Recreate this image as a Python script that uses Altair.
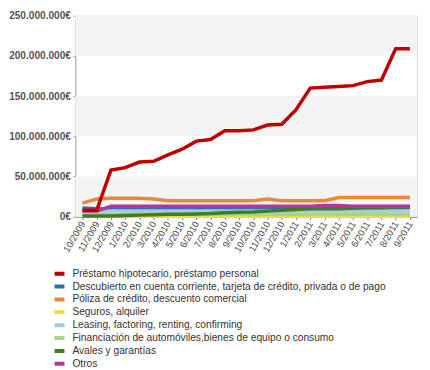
import altair as alt
import pandas as pd

months = ["10/2009","11/2009","12/2009","1/2010","2/2010","3/2010","4/2010","5/2010","6/2010",
          "7/2010","8/2010","9/2010","10/2010","11/2010","12/2010","1/2011","2/2011","3/2011",
          "4/2011","5/2011","6/2011","7/2011","8/2011","9/2011"]

series_names = [
    "Préstamo hipotecario, préstamo personal",
    "Descubierto en cuenta corriente, tarjeta de crédito, privada o de pago",
    "Póliza de crédito, descuento comercial",
    "Seguros, alquiler",
    "Leasing, factoring, renting, confirming",
    "Financiación de automóviles,bienes de equipo o consumo",
    "Avales y garantías",
    "Otros",
]
colors = ["#c00000", "#2f6db5", "#e8883a", "#e6e03a", "#a9c8e8", "#a8d48c", "#3d7d26", "#b0379e"]

# values in millions of euros
prestamo = [8, 8, 58, 61, 68, 69, 77, 84, 94, 96, 107, 107, 108, 114, 115, 133, 160, 161, 162, 163, 168, 170, 209, 209]
descubierto = [11, 10, 10, 10, 10, 10, 10, 10, 10, 10, 10, 10, 10, 10, 10, 10, 10, 10, 10, 10, 10, 10, 10, 11]
poliza = [17, 22, 23, 23, 23, 22, 20, 20, 20, 20, 20, 20, 20, 22, 20, 20, 20, 20, 24, 24, 24, 24, 24, 24]
seguros = [0.5, 0.5, 0.5, 0.5, 0.5, 0.5, 0.5, 0.5, 0.5, 0.5, 0.5, 0.5, 0.5, 0.5, 0.5, 0.5, 0.5, 0.5, 0.5, 0.5, 0.5, 0.5, 0.5, 0.5]
leasing = [7, 7, 7, 7, 7, 7, 7, 7, 7, 7, 7, 7, 7, 7, 7, 7, 7, 7, 7, 7, 7, 7, 7, 7]
financiacion = [3, 3, 3, 3, 3, 3, 3, 3, 3, 3, 3, 3, 3, 3, 3, 3, 3, 3, 3, 3, 3, 3, 3, 3]
avales = [1, 1, 1, 1.5, 2, 2.5, 3, 3, 3.5, 4, 5, 5.5, 6, 7, 8, 9, 10, 10, 10, 10.5, 11, 11, 12, 12]
otros = [7, 7, 13, 13, 13, 13, 13, 13, 13, 13, 13, 13, 13, 13, 13, 13, 13, 14, 14, 13, 13, 13, 13, 13]

all_values = [prestamo, descubierto, poliza, seguros, leasing, financiacion, avales, otros]

rows = []
for name, vals in zip(series_names, all_values):
    for m, v in zip(months, vals):
        rows.append({"mes": m, "serie": name, "valor": v * 1_000_000})
df = pd.DataFrame(rows)

band_lo = [0, 100_000_000, 200_000_000]
band_hi = [50_000_000, 150_000_000, 250_000_000]
bands = pd.DataFrame({"lo": band_lo, "hi": band_hi})

yscale = alt.Scale(domain=[0, 250_000_000], nice=False)
xscale = alt.Scale(type="point", padding=0.5)

band_layer = alt.Chart(bands).mark_rect(color="#f4f4f4").encode(
    y=alt.Y("lo:Q", scale=yscale),
    y2="hi:Q",
)

color_enc = alt.Color(
    "serie:N",
    scale=alt.Scale(domain=series_names, range=colors),
    sort=series_names,
    legend=alt.Legend(
        title=None, orient="none", legendX=-23, legendY=255, direction="vertical",
        symbolType="stroke", symbolStrokeWidth=4, symbolSize=100,
        labelFontSize=10.3, labelColor="#333", labelFont="Liberation Sans",
        rowPadding=2, labelLimit=400, labelOffset=6, clipHeight=11,
    ),
)

x_enc = alt.X(
    "mes:N", sort=months, scale=xscale, title=None,
    axis=alt.Axis(labelAngle=-60, labelFontSize=9.5, labelColor="#444", labelFont="Liberation Sans",
                  domain=True, domainColor="#888", ticks=True, tickSize=3, tickColor="#888",
                  grid=False, labelPadding=2),
)
y_enc = alt.Y(
    "valor:Q", scale=yscale, title=None,
    axis=alt.Axis(values=[0, 50_000_000, 100_000_000, 150_000_000, 200_000_000, 250_000_000],
                  labelExpr="replace(format(datum.value, ',.0f'), regexp(',', 'g'), '.') + '€'",
                  labelFontSize=10.2, labelFontWeight="bold", labelColor="#555",
                  labelFont="Liberation Sans", domain=True, domainColor="#aaa",
                  ticks=True, tickSize=3, tickColor="#aaa", grid=False),
)

others = df[df["serie"] != series_names[0]]
red = df[df["serie"] == series_names[0]]

lines_others = alt.Chart(others).mark_line(strokeWidth=3.5).encode(
    x=x_enc, y=y_enc, color=color_enc,
)

lines_red = alt.Chart(red).mark_line(strokeWidth=3.5).encode(
    x=x_enc, y=y_enc, color=color_enc,
)

chart = alt.layer(band_layer, lines_others, lines_red).properties(
    width=345, height=203,
    padding={"left": 0, "top": 1, "right": 5, "bottom": 0},
).configure_view(stroke=None).configure(background="white")

chart.save("out.html", embed_options={"renderer": "svg", "actions": False})
